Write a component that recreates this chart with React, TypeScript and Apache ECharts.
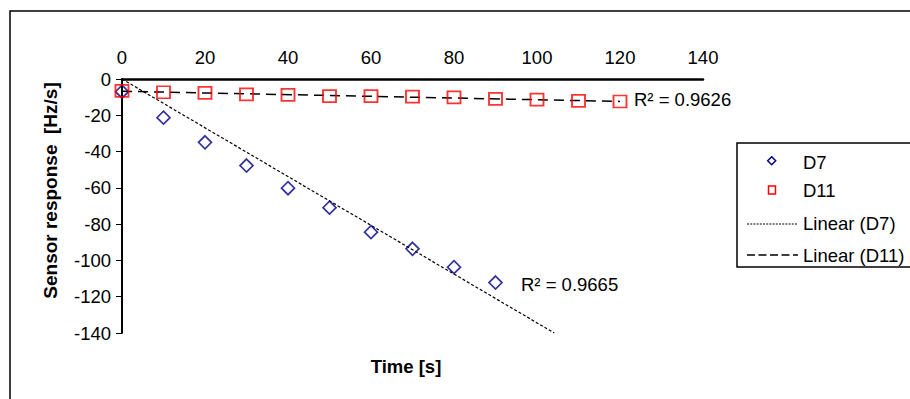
import React, { useEffect, useRef } from "react";
import * as echarts from "echarts";

const timeD7 = [0, 10, 20, 30, 40, 50, 60, 70, 80, 90];
const valuesD7 = [-7.0, -21.3, -34.9, -47.7, -60.2, -70.9, -84.4, -93.6, -103.7, -112.2];
const timeD11 = [0, 10, 20, 30, 40, 50, 60, 70, 80, 90, 100, 110, 120];
const valuesD11 = [-6.5, -7.3, -7.6, -8.5, -8.8, -9.4, -9.4, -9.7, -10.1, -11.0, -11.4, -12.1, -12.4];
const xTicks = { min: 0, max: 140, interval: 20 };
const yTicks = { min: -140, max: 0, interval: 20 };
const r2D7 = "R² = 0.9665";
const r2D11 = "R² = 0.9626";
const legendNames = ["D7", "D11", "Linear (D7)", "Linear (D11)"];

const FONT = "'Liberation Sans', Arial, Helvetica, sans-serif";
const FS = 18.5;

// least squares through origin (D7 trendline has intercept set to 0)
function fitThroughOrigin(xs: number[], ys: number[]) {
  let sxy = 0, sxx = 0;
  xs.forEach((x, i) => { sxy += x * ys[i]; sxx += x * x; });
  return sxy / sxx;
}
// ordinary least squares
function fitLinear(xs: number[], ys: number[]) {
  const n = xs.length;
  const mx = xs.reduce((a, b) => a + b, 0) / n;
  const my = ys.reduce((a, b) => a + b, 0) / n;
  let sxy = 0, sxx = 0;
  xs.forEach((x, i) => { sxy += (x - mx) * (ys[i] - my); sxx += (x - mx) * (x - mx); });
  const slope = sxy / sxx;
  return { slope, intercept: my - slope * mx };
}

export default function App() {
  const ref = useRef<HTMLDivElement>(null);
  useEffect(() => {
    if (!ref.current) return;
    const chart = echarts.init(ref.current, undefined, { renderer: "svg" });

    const k7 = fitThroughOrigin(timeD7, valuesD7);
    const xEnd7 = yTicks.min / k7; // trendline clipped at axis minimum
    const trend7 = [[0, 0], [xEnd7, yTicks.min]];
    const f11 = fitLinear(timeD11, valuesD11);
    const x11a = timeD11[0], x11b = timeD11[timeD11.length - 1];
    const trend11 = [[x11a, f11.intercept + f11.slope * x11a], [x11b, f11.intercept + f11.slope * x11b]];

    const lx = 737, ly = 143;
    chart.setOption({
      animation: false,
      backgroundColor: "#fff",
      grid: { left: 122, top: 79, right: 207, bottom: 66, containLabel: false },
      xAxis: {
        type: "value", position: "top", ...xTicks,
        axisLine: { onZero: false, lineStyle: { color: "#000", width: 2.5 } },
        axisTick: { show: false },
        splitLine: { show: false },
        axisLabel: { color: "#000", fontSize: FS, fontFamily: FONT, margin: 12 },
      },
      yAxis: {
        type: "value", ...yTicks,
        axisLine: { show: true, onZero: false, lineStyle: { color: "#000", width: 2 } },
        axisTick: { show: true, inside: false, length: 6, lineStyle: { color: "#000", width: 1 } },
        splitLine: { show: false },
        axisLabel: { color: "#000", fontSize: FS, fontFamily: FONT, margin: 11 },
      },
      series: [
        {
          name: legendNames[2], type: "line", data: trend7, showSymbol: false, symbol: "none",
          lineStyle: { color: "#000", width: 1.2, type: [3, 2] }, z: 3,
        },
        {
          name: legendNames[3], type: "line", data: trend11, showSymbol: false, symbol: "none",
          lineStyle: { color: "#000", width: 1.5, type: [10, 6] }, z: 3,
        },
        {
          name: legendNames[0], type: "scatter", data: timeD7.map((t, i) => [t, valuesD7[i]]),
          symbol: "diamond", symbolSize: [13, 13],
          itemStyle: { color: "rgba(0,0,0,0)", borderColor: "#000080", borderWidth: 1.7 }, z: 4,
        },
        {
          name: legendNames[1], type: "scatter", data: timeD11.map((t, i) => [t, valuesD11[i]]),
          symbol: "rect", symbolSize: [13, 12],
          itemStyle: { color: "rgba(0,0,0,0)", borderColor: "#FF0000", borderWidth: 1.8 }, z: 4,
        },
      ],
      graphic: [
        { type: "rect", silent: true, shape: { x: 10, y: 11, width: 1000, height: 500 },
          style: { fill: "none", stroke: "#000", lineWidth: 1.5 }, z: -10 },
        { type: "text", x: 50, y: 190.5, rotation: Math.PI / 2,
          style: { text: "Sensor response  [Hz/s]", font: `bold 19px ${FONT}`, fill: "#000", align: "center", verticalAlign: "middle" } },
        { type: "text", x: 406, y: 366,
          style: { text: "Time [s]", font: `bold 18.5px ${FONT}`, fill: "#000", align: "center", verticalAlign: "middle" } },
        { type: "text", x: 634, y: 99,
          style: { text: r2D11, font: `${FS}px ${FONT}`, fill: "#000", align: "left", verticalAlign: "middle" } },
        { type: "text", x: 521, y: 284,
          style: { text: r2D7, font: `${FS}px ${FONT}`, fill: "#000", align: "left", verticalAlign: "middle" } },
        // legend
        { type: "rect", shape: { x: lx, y: ly, width: 200, height: 124 },
          style: { fill: "#fff", stroke: "#000", lineWidth: 1.5 } },
        { type: "polygon", shape: { points: [[771.7, 156.7], [775.7, 160.7], [771.7, 164.7], [767.7, 160.7]] },
          style: { fill: "none", stroke: "#000080", lineWidth: 1.5 } },
        { type: "rect", shape: { x: 768.5, y: 186, width: 7, height: 8 },
          style: { fill: "none", stroke: "#FF0000", lineWidth: 1.5 } },
        { type: "line", shape: { x1: 747, y1: 224, x2: 797, y2: 224 },
          style: { stroke: "#000", lineWidth: 1, lineDash: [2, 1.2] } },
        { type: "line", shape: { x1: 747, y1: 255, x2: 798, y2: 255 },
          style: { stroke: "#000", lineWidth: 1.5, lineDash: [8, 3.5] } },
        { type: "text", x: 803, y: 162, style: { text: legendNames[0], font: `${FS}px ${FONT}`, fill: "#000", verticalAlign: "middle" } },
        { type: "text", x: 803, y: 190, style: { text: legendNames[1], font: `${FS}px ${FONT}`, fill: "#000", verticalAlign: "middle" } },
        { type: "text", x: 803, y: 223.5, style: { text: legendNames[2], font: `${FS}px ${FONT}`, fill: "#000", verticalAlign: "middle" } },
        { type: "text", x: 803, y: 255, style: { text: legendNames[3], font: `${FS}px ${FONT}`, fill: "#000", verticalAlign: "middle" } },
      ],
    });
    return () => chart.dispose();
  }, []);
  return <div ref={ref} style={{ position: "fixed", left: 0, top: 0, width: 910, height: 399, background: "#fff" }} />;
}
